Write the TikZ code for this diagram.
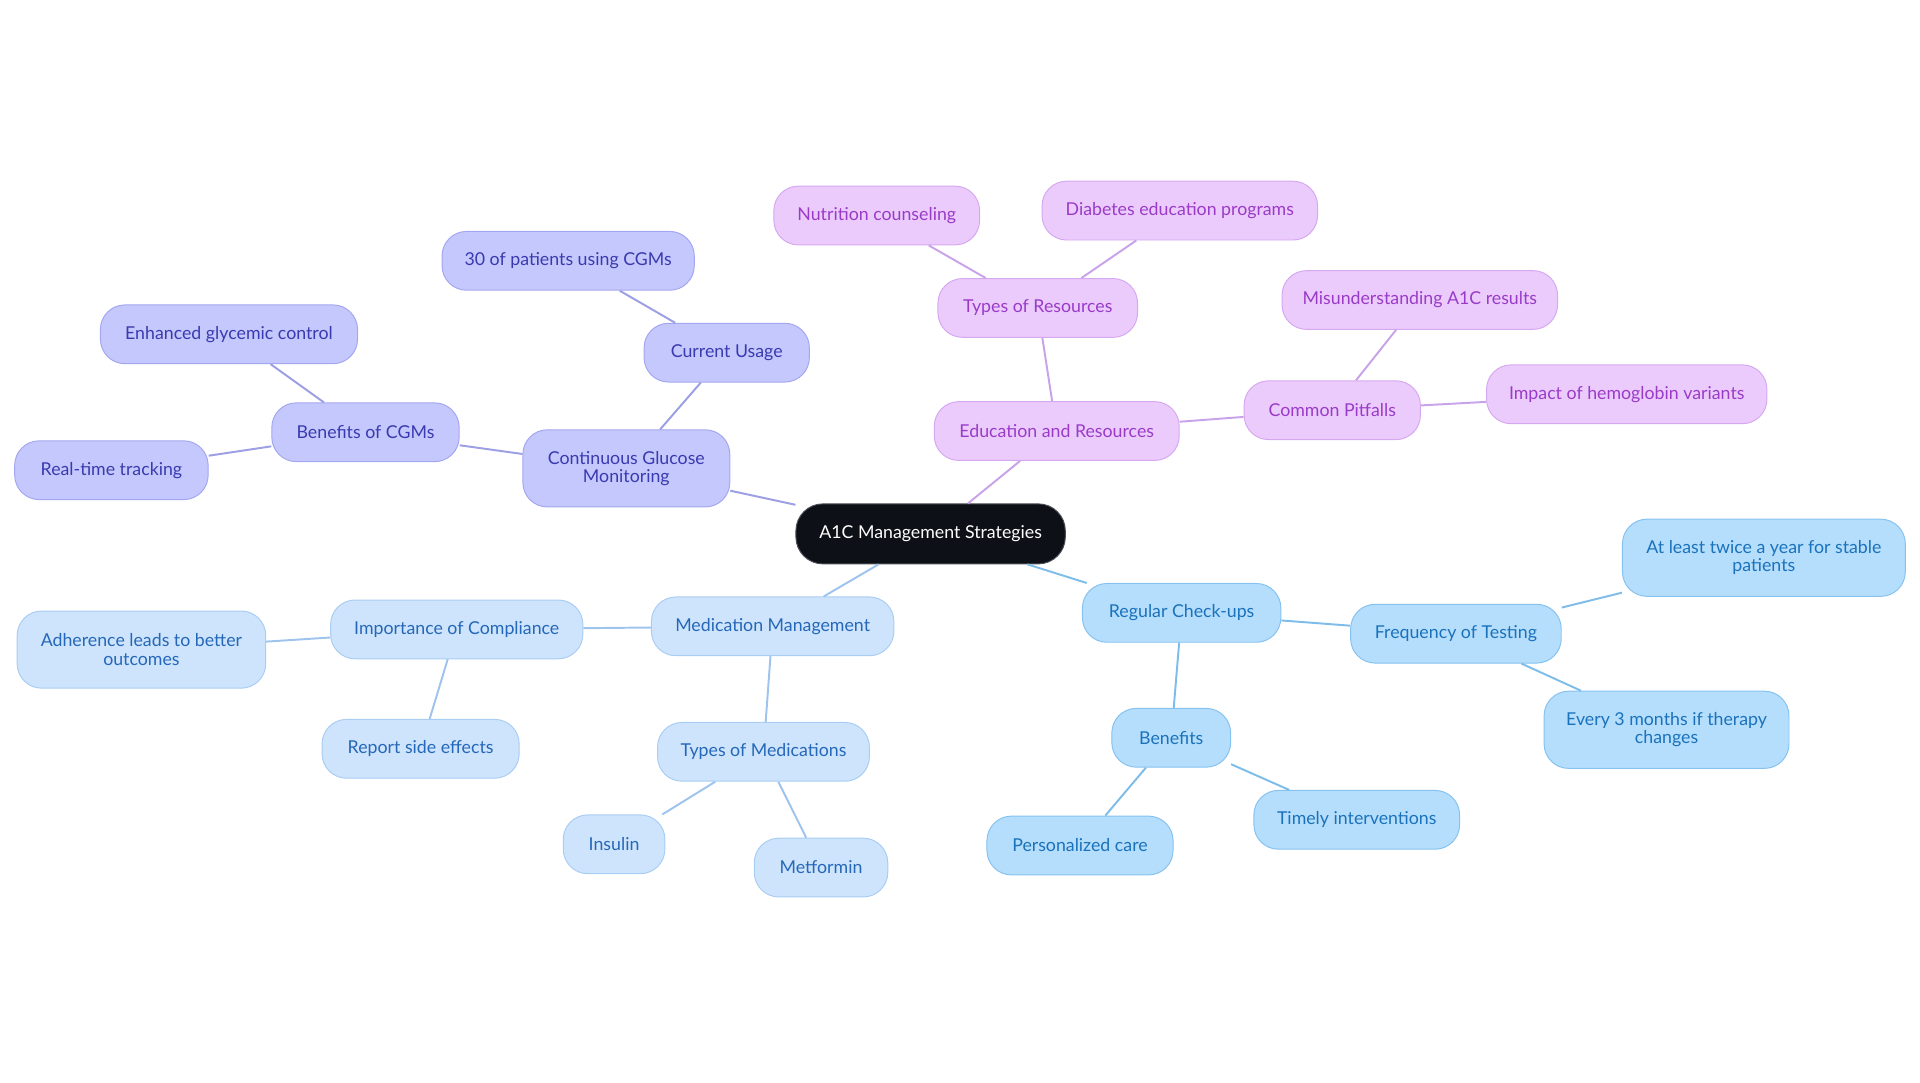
\documentclass[tikz,border=0pt]{standalone}
\usepackage{fontspec}
\setmainfont{Lato}
\usepackage{xcolor}
\definecolor{rootfill}{HTML}{0D1117}
\definecolor{rootline}{HTML}{4A4F57}
\definecolor{cgmfill}{HTML}{C5C8FC}
\definecolor{cgmline}{HTML}{A3A6F0}
\definecolor{cgmtext}{HTML}{3A3AB0}
\definecolor{cgmlink}{HTML}{9C9FE3}
\definecolor{edufill}{HTML}{EBCBFC}
\definecolor{eduline}{HTML}{D6A8F0}
\definecolor{edutext}{HTML}{9A3BC8}
\definecolor{edulink}{HTML}{C9A3EA}
\definecolor{medfill}{HTML}{CDE4FC}
\definecolor{medline}{HTML}{A9CDF3}
\definecolor{medtext}{HTML}{2567B8}
\definecolor{medlink}{HTML}{9EC4EE}
\definecolor{chkfill}{HTML}{B5DEFC}
\definecolor{chkline}{HTML}{86C2F0}
\definecolor{chktext}{HTML}{1A72BC}
\definecolor{chklink}{HTML}{7EBDE9}

\begin{document}
\begin{tikzpicture}[
  x=1pt, y=-1pt,
  pill/.style={rectangle, rounded corners=20pt, line width=0.8pt, align=center, minimum height=48pt, inner xsep=4pt, font=\fontsize{14.5}{15}\selectfont},
  rootbox/.style={pill, draw=rootline, fill=rootfill, text=white, rounded corners=22pt},
  cgmbox/.style={pill, draw=cgmline, fill=cgmfill, text=cgmtext},
  edubox/.style={pill, draw=eduline, fill=edufill, text=edutext},
  medbox/.style={pill, draw=medline, fill=medfill, text=medtext},
  chkbox/.style={pill, draw=chkline, fill=chkfill, text=chktext},
  tall/.style={minimum height=63pt},
  link/.style={line width=1.6pt}
]
\useasboundingbox (0,0) rectangle (1568,884);

% root
\node[rootbox, minimum width=220pt, minimum height=49pt] (root) at (760,436) {A1C Management Strategies};

% continuous glucose monitoring
\node[cgmbox, tall, minimum width=169pt] (cgm) at (511.5,382.5) {Continuous Glucose\\Monitoring};
\node[cgmbox, minimum width=153pt] (cgmben) at (298.5,353) {Benefits of CGMs};
\node[cgmbox, minimum width=210pt] (glyc) at (187,273) {Enhanced glycemic control};
\node[cgmbox, minimum width=158pt] (track) at (91,384) {Real-time tracking};
\node[cgmbox, minimum width=135pt] (usage) at (593.5,288) {Current Usage};
\node[cgmbox, minimum width=206pt] (share) at (464,213) {30 of patients using CGMs};

% education and resources
\node[edubox, minimum width=200pt] (edu) at (863,352) {Education and Resources};
\node[edubox, minimum width=163pt] (res) at (847.5,251.5) {Types of Resources};
\node[edubox, minimum width=168pt] (nutri) at (716,176) {Nutrition counseling};
\node[edubox, minimum width=225pt] (prog) at (963.5,172) {Diabetes education programs};
\node[edubox, minimum width=144pt] (pit) at (1088,335) {Common Pitfalls};
\node[edubox, minimum width=225pt] (misread) at (1159.5,245) {Misunderstanding A1C results};
\node[edubox, minimum width=229pt] (hemo) at (1328.5,322) {Impact of hemoglobin variants};

% medication management
\node[medbox, minimum width=198pt] (med) at (631,511.5) {Medication Management};
\node[medbox, minimum width=206pt] (comp) at (373,514) {Importance of Compliance};
\node[medbox, tall, minimum width=203pt] (adh) at (115.5,530.5) {Adherence leads to better\\outcomes};
\node[medbox, minimum width=161pt] (side) at (343.5,611.5) {Report side effects};
\node[medbox, minimum width=173pt] (kinds) at (623.5,614) {Types of Medications};
\node[medbox, minimum width=83pt] (ins) at (501.5,689.5) {Insulin};
\node[medbox, minimum width=109pt] (metf) at (670.5,708.5) {Metformin};

% regular check-ups
\node[chkbox, minimum width=162pt] (chk) at (965,500.5) {Regular Check-ups};
\node[chkbox, minimum width=172pt] (freq) at (1189,517.5) {Frequency of Testing};
\node[chkbox, tall, minimum width=231pt] (twice) at (1440.5,455.5) {At least twice a year for stable\\patients};
\node[chkbox, tall, minimum width=200pt] (three) at (1361,596) {Every 3 months if therapy\\changes};
\node[chkbox, minimum width=97pt] (ben) at (956.5,602.5) {Benefits};
\node[chkbox, minimum width=152pt] (pers) at (882,690.5) {Personalized care};
\node[chkbox, minimum width=168pt] (timely) at (1108,669.5) {Timely interventions};

% links
\draw[link, cgmlink] (root) -- (cgm);
\draw[link, cgmlink] (cgm) -- (cgmben);
\draw[link, cgmlink] (cgmben) -- (glyc);
\draw[link, cgmlink] (cgmben) -- (track);
\draw[link, cgmlink] (cgm) -- (usage);
\draw[link, cgmlink] (usage) -- (share);

\draw[link, edulink] (root) -- (edu);
\draw[link, edulink] (edu) -- (res);
\draw[link, edulink] (res) -- (nutri);
\draw[link, edulink] (res) -- (prog);
\draw[link, edulink] (edu) -- (pit);
\draw[link, edulink] (pit) -- (misread);
\draw[link, edulink] (pit) -- (hemo);

\draw[link, medlink] (root) -- (med);
\draw[link, medlink] (med) -- (comp);
\draw[link, medlink] (comp) -- (adh);
\draw[link, medlink] (comp) -- (side);
\draw[link, medlink] (med) -- (kinds);
\draw[link, medlink] (kinds) -- (ins);
\draw[link, medlink] (kinds) -- (metf);

\draw[link, chklink] (root) -- (chk);
\draw[link, chklink] (chk) -- (freq);
\draw[link, chklink] (freq) -- (twice);
\draw[link, chklink] (freq) -- (three);
\draw[link, chklink] (chk) -- (ben);
\draw[link, chklink] (ben) -- (pers);
\draw[link, chklink] (ben) -- (timely);
\end{tikzpicture}
\end{document}
